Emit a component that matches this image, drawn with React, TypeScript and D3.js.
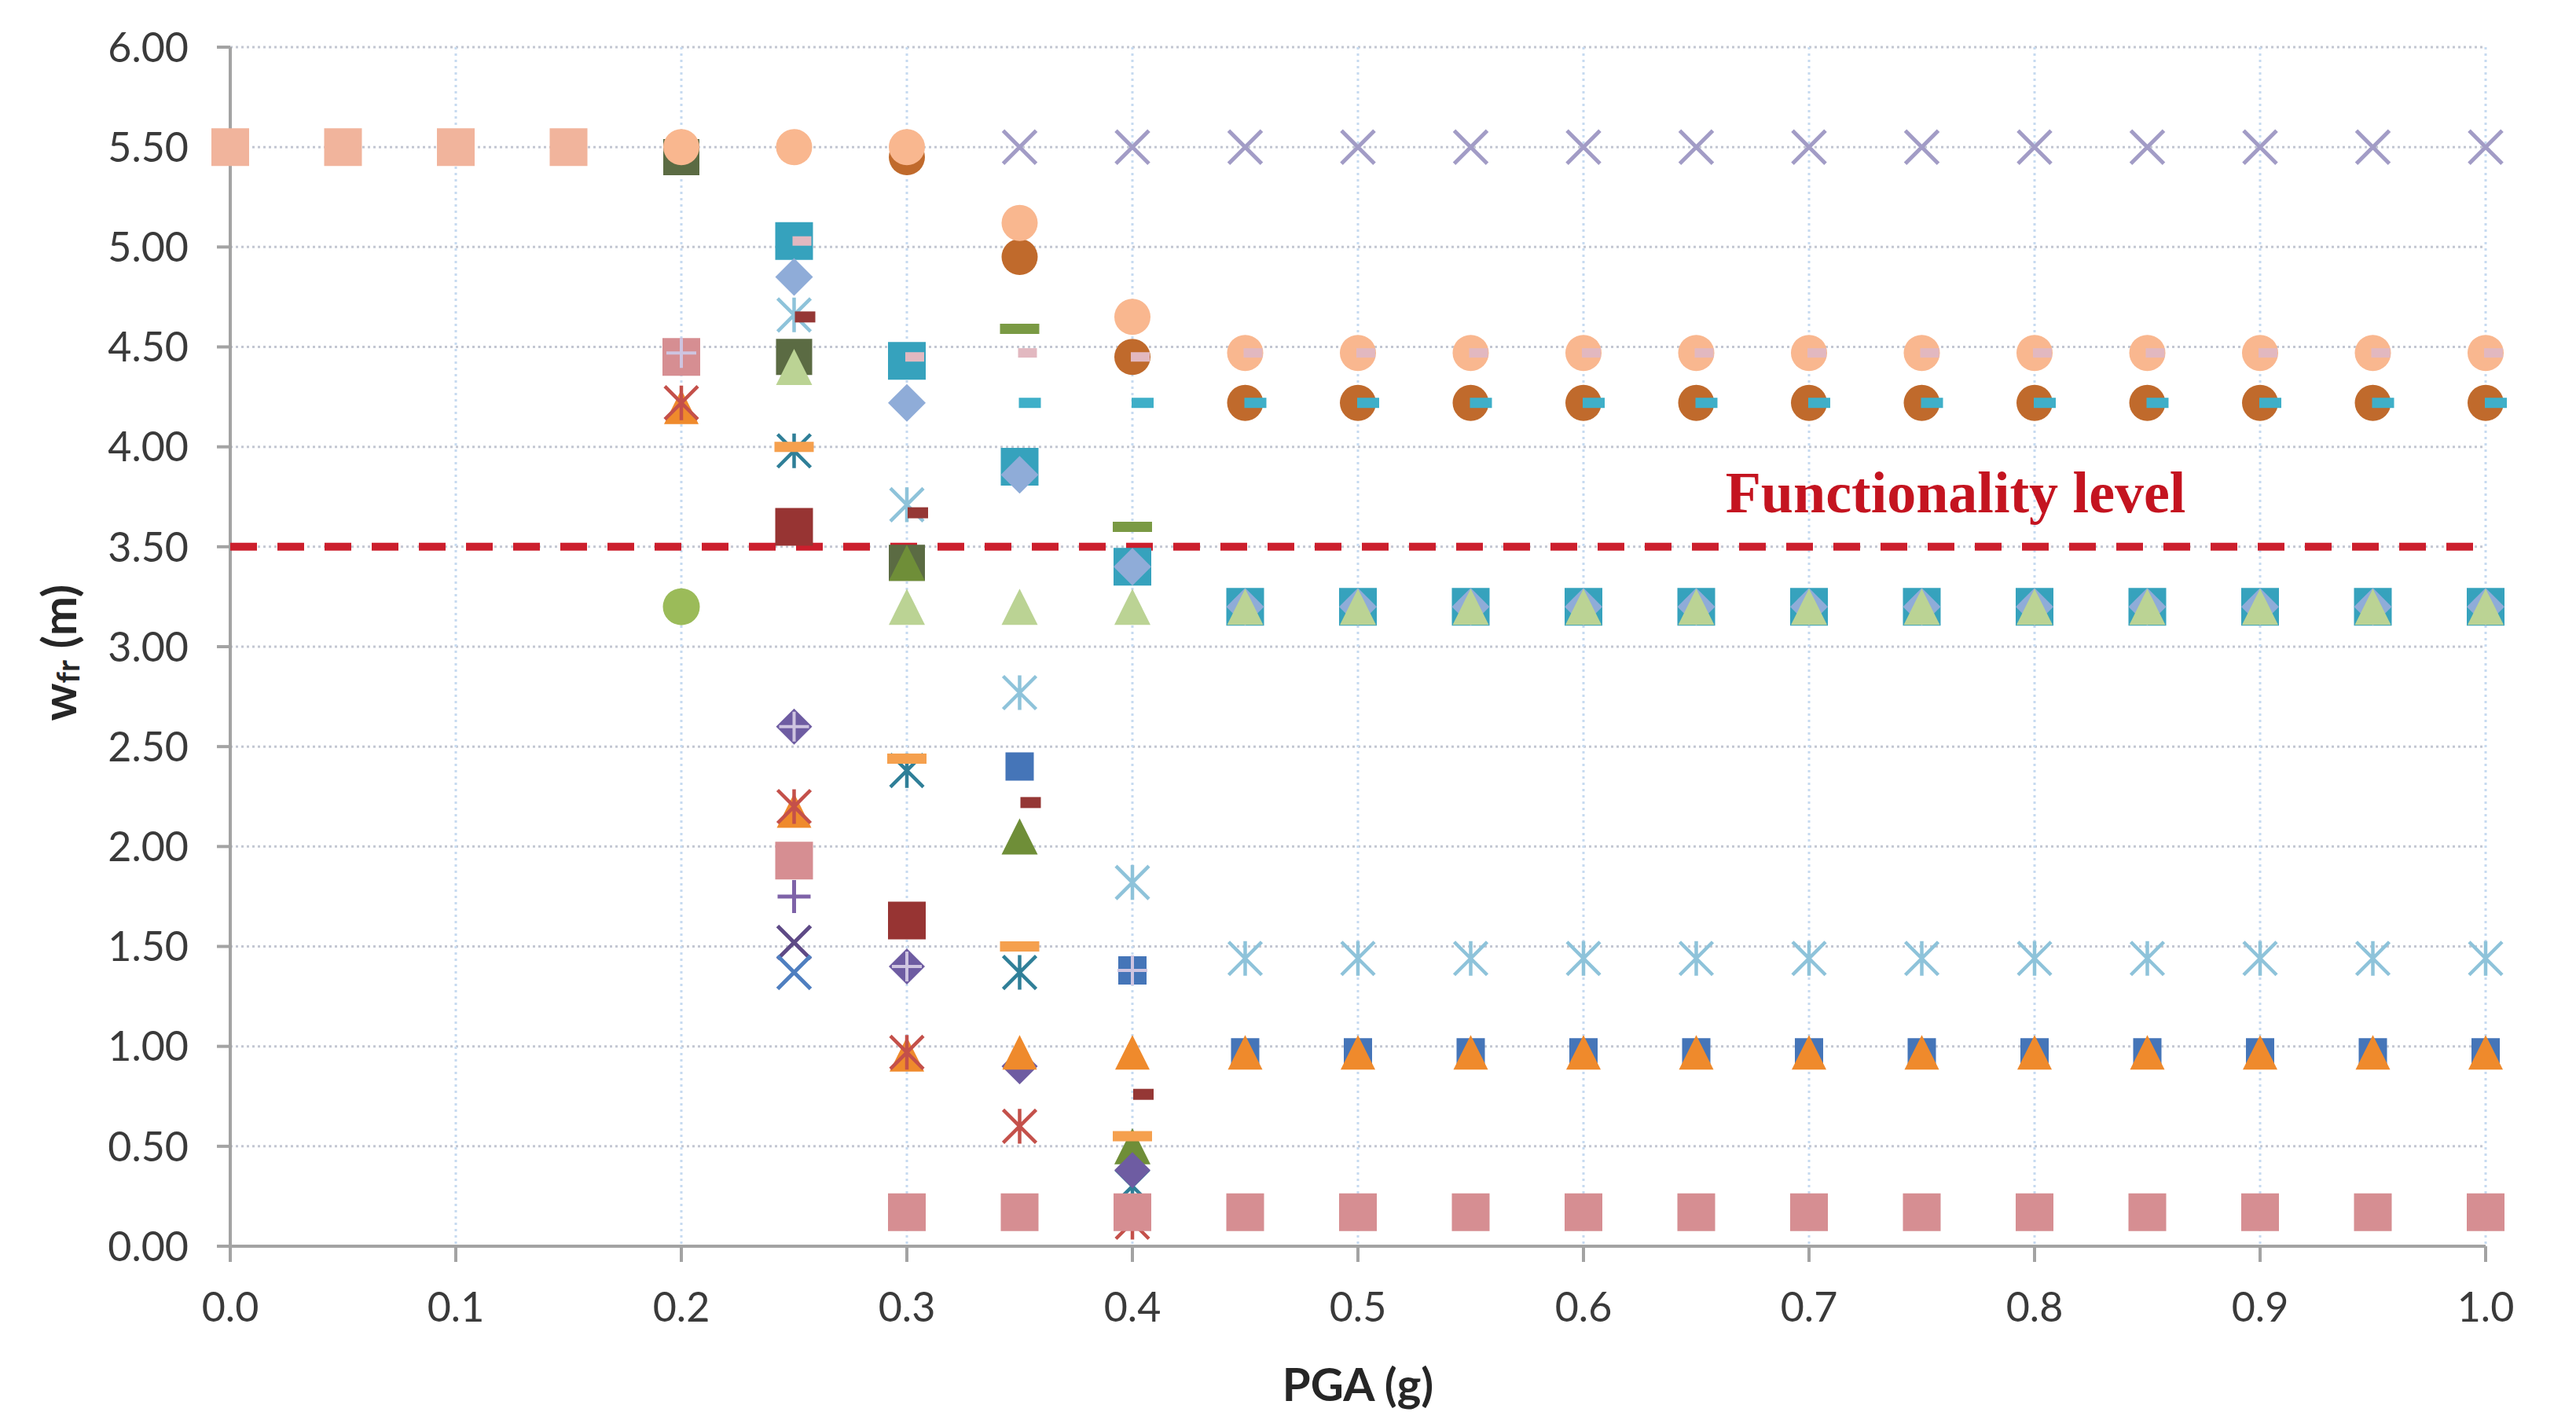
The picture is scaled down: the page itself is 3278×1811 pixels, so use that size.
import React from "react";
import * as d3 from "d3";

const _ = null;
const pga = [0, 0.05, 0.1, 0.15, 0.2, 0.25, 0.3, 0.35, 0.4, 0.45, 0.5, 0.55, 0.6, 0.65, 0.7, 0.75, 0.8, 0.85, 0.9, 0.95, 1.0];
const xTicks = [0, 0.1, 0.2, 0.3, 0.4, 0.5, 0.6, 0.7, 0.8, 0.9, 1.0];
const yTicks = [0, 0.5, 1, 1.5, 2, 2.5, 3, 3.5, 4, 4.5, 5, 5.5, 6];
const functionalityLevel = 3.5;

const peachSquare = [5.5, 5.5, 5.5, 5.5, _, _, _, _, _, _, _, _, _, _, _, _, _, _, _, _, _];
const oliveSquare = [_, _, _, _, 5.45, 4.45, 3.42, _, _, _, _, _, _, _, _, _, _, _, _, _, _];
const brownCircle = [_, _, _, _, _, _, 5.45, 4.95, 4.45, 4.22, 4.22, 4.22, 4.22, 4.22, 4.22, 4.22, 4.22, 4.22, 4.22, 4.22, 4.22];
const peachCircle = [_, _, _, _, 5.5, 5.5, 5.5, 5.12, 4.65, 4.47, 4.47, 4.47, 4.47, 4.47, 4.47, 4.47, 4.47, 4.47, 4.47, 4.47, 4.47];
const tealSquare = [_, _, _, _, _, 5.03, 4.43, 3.9, 3.4, 3.2, 3.2, 3.2, 3.2, 3.2, 3.2, 3.2, 3.2, 3.2, 3.2, 3.2, 3.2];
const pinkDash = [_, _, _, _, _, 5.03, 4.45, 4.47, 4.45, 4.47, 4.47, 4.47, 4.47, 4.47, 4.47, 4.47, 4.47, 4.47, 4.47, 4.47, 4.47];
const lightBlueDiamond = [_, _, _, _, _, 4.85, 4.22, 3.86, 3.4, 3.2, 3.2, 3.2, 3.2, 3.2, 3.2, 3.2, 3.2, 3.2, 3.2, 3.2, 3.2];
const darkGreenTriangle = [_, _, _, _, _, _, 3.42, 2.05, 0.5, _, _, _, _, _, _, _, _, _, _, _, _];
const lightGreenTriangle = [_, _, _, _, _, 4.4, 3.2, 3.2, 3.2, 3.2, 3.2, 3.2, 3.2, 3.2, 3.2, 3.2, 3.2, 3.2, 3.2, 3.2, 3.2];
const tealDash = [_, _, _, _, _, _, _, 4.22, 4.22, 4.22, 4.22, 4.22, 4.22, 4.22, 4.22, 4.22, 4.22, 4.22, 4.22, 4.22, 4.22];
const greenDash = [_, _, _, _, _, _, _, 4.59, 3.6, _, _, _, _, _, _, _, _, _, _, _, _];
const lavenderX = [_, _, _, _, _, _, _, 5.5, 5.5, 5.5, 5.5, 5.5, 5.5, 5.5, 5.5, 5.5, 5.5, 5.5, 5.5, 5.5, 5.5];
const lightBlueAsterisk = [_, _, _, _, _, 4.66, 3.71, 2.77, 1.82, 1.44, 1.44, 1.44, 1.44, 1.44, 1.44, 1.44, 1.44, 1.44, 1.44, 1.44, 1.44];
const darkRedDash = [_, _, _, _, _, 4.65, 3.67, 2.22, 0.76, _, _, _, _, _, _, _, _, _, _, _, _];
const darkRedSquare = [_, _, _, _, _, 3.6, 1.63, _, _, _, _, _, _, _, _, _, _, _, _, _, _];
const tealAsterisk = [_, _, _, _, _, 3.98, 2.38, 1.37, 0.3, _, _, _, _, _, _, _, _, _, _, _, _];
const orangeDash = [_, _, _, _, _, 4.0, 2.44, 1.5, 0.55, _, _, _, _, _, _, _, _, _, _, _, _];
const purpleDiamond = [_, _, _, _, _, 2.6, 1.4, 0.9, 0.38, _, _, _, _, _, _, _, _, _, _, _, _];
const blueSquare = [_, _, _, _, _, _, _, 2.4, 1.38, 0.97, 0.97, 0.97, 0.97, 0.97, 0.97, 0.97, 0.97, 0.97, 0.97, 0.97, 0.97];
const orangeTriangle = [_, _, _, _, 4.2, 2.18, 0.96, 0.97, 0.97, 0.97, 0.97, 0.97, 0.97, 0.97, 0.97, 0.97, 0.97, 0.97, 0.97, 0.97, 0.97];
const redAsterisk = [_, _, _, _, 4.22, 2.2, 0.97, 0.6, 0.12, _, _, _, _, _, _, _, _, _, _, _, _];
const pinkSquare = [_, _, _, _, 4.45, 1.93, 0.17, 0.17, 0.17, 0.17, 0.17, 0.17, 0.17, 0.17, 0.17, 0.17, 0.17, 0.17, 0.17, 0.17, 0.17];
const lavenderPlus = [_, _, _, _, 4.47, 2.6, 1.4, _, 1.38, _, _, _, _, _, _, _, _, _, _, _, _];
const purplePlus = [_, _, _, _, _, 1.75, _, _, _, _, _, _, _, _, _, _, _, _, _, _, _];
const darkPurpleX = [_, _, _, _, _, 1.52, _, _, _, _, _, _, _, _, _, _, _, _, _, _, _];
const blueX = [_, _, _, _, _, 1.37, _, _, _, _, _, _, _, _, _, _, _, _, _, _, _];
const greenCircle = [_, _, _, _, 3.2, _, _, _, _, _, _, _, _, _, _, _, _, _, _, _, _];

type Shape = "square" | "circle" | "triangle" | "diamond" | "x" | "asterisk" | "plus" | "dash";
interface SeriesStyle { values: (number | null)[]; shape: Shape; color: string; size: number; h?: number; dx?: number; sw?: number; }

// draw order: later entries are drawn on top
const series: SeriesStyle[] = [
  { values: peachSquare, shape: "square", color: "#F1B49C", size: 48 },
  { values: oliveSquare, shape: "square", color: "#5B6B43", size: 46 },
  { values: brownCircle, shape: "circle", color: "#C06A2C", size: 46 },
  { values: peachCircle, shape: "circle", color: "#F9B78F", size: 46 },
  { values: tealSquare, shape: "square", color: "#36A2BD", size: 48 },
  { values: pinkDash, shape: "dash", color: "#E2B8C0", size: 24, h: 12, dx: 10 },
  { values: lightBlueDiamond, shape: "diamond", color: "#8FACD8", size: 48 },
  { values: darkGreenTriangle, shape: "triangle", color: "#6F8E38", size: 46 },
  { values: lightGreenTriangle, shape: "triangle", color: "#BBD394", size: 46 },
  { values: tealDash, shape: "dash", color: "#3FAFC8", size: 28, h: 13, dx: 13 },
  { values: greenDash, shape: "dash", color: "#7A9A44", size: 50, h: 13 },
  { values: lavenderX, shape: "x", color: "#A29CC6", size: 42, sw: 5 },
  { values: lightBlueAsterisk, shape: "asterisk", color: "#8EC3DA", size: 42, sw: 4.5 },
  { values: darkRedDash, shape: "dash", color: "#953735", size: 26, h: 14, dx: 14 },
  { values: darkRedSquare, shape: "square", color: "#973433", size: 48 },
  { values: tealAsterisk, shape: "asterisk", color: "#2F7F98", size: 42, sw: 4.5 },
  { values: orangeDash, shape: "dash", color: "#F5A04E", size: 50, h: 13 },
  { values: purpleDiamond, shape: "diamond", color: "#6E5CA2", size: 46 },
  { values: blueSquare, shape: "square", color: "#4575B8", size: 36 },
  { values: orangeTriangle, shape: "triangle", color: "#EF8A2C", size: 44 },
  { values: redAsterisk, shape: "asterisk", color: "#C4504A", size: 42, sw: 4.5 },
  { values: pinkSquare, shape: "square", color: "#D68E92", size: 48 },
  { values: lavenderPlus, shape: "plus", color: "#CEC4E0", size: 38, sw: 4 },
  { values: purplePlus, shape: "plus", color: "#7E62A8", size: 42, sw: 5 },
  { values: darkPurpleX, shape: "x", color: "#5E4A86", size: 42, sw: 5 },
  { values: blueX, shape: "x", color: "#4F7FC0", size: 42, sw: 5 },
  { values: greenCircle, shape: "circle", color: "#9BBB59", size: 47 },
];

const W = 3278;
const H = 1811;
const left = 293;
const right = 3163;
const top = 60;
const bottom = 1586;
const FONT = "Lato, 'Open Sans', 'DejaVu Sans', sans-serif";

function markerPath(shape: Shape, s: number, h: number): string {
  const r = s / 2;
  const p = d3.path();
  switch (shape) {
    case "square":
      p.rect(-r, -r, s, s);
      break;
    case "circle":
      p.moveTo(r, 0);
      p.arc(0, 0, r, 0, Math.PI * 2);
      p.closePath();
      break;
    case "triangle":
      p.moveTo(0, -r);
      p.lineTo(r, r);
      p.lineTo(-r, r);
      p.closePath();
      break;
    case "diamond":
      p.moveTo(0, -r);
      p.lineTo(r, 0);
      p.lineTo(0, r);
      p.lineTo(-r, 0);
      p.closePath();
      break;
    case "dash":
      p.rect(-r, -h / 2, s, h);
      break;
    case "x":
      p.moveTo(-r, -r); p.lineTo(r, r);
      p.moveTo(r, -r); p.lineTo(-r, r);
      break;
    case "asterisk":
      p.moveTo(-r, -r); p.lineTo(r, r);
      p.moveTo(r, -r); p.lineTo(-r, r);
      p.moveTo(0, -r * 1.05); p.lineTo(0, r * 1.05);
      break;
    case "plus":
      p.moveTo(-r, 0); p.lineTo(r, 0);
      p.moveTo(0, -r); p.lineTo(0, r);
      break;
  }
  return p.toString();
}

export default function App() {
  const x = d3.scaleLinear().domain([0, 1]).range([left, right]);
  const y = d3.scaleLinear().domain([0, 6]).range([bottom, top]);
  const fx = d3.format(".1f");
  const fy = d3.format(".2f");

  return (
    <svg width={W} height={H} viewBox={`0 0 ${W} ${H}`} style={{ position: "absolute", left: 0, top: 0, background: "#fff" }}>
      <rect x={0} y={0} width={W} height={H} fill="#fff" />
      {/* horizontal gridlines */}
      {yTicks.filter((t) => t > 0).map((t) => (
        <line key={"hg" + t} x1={left} x2={right} y1={y(t)} y2={y(t)} stroke="#C3C7D2" strokeWidth={3} strokeDasharray="3 4" />
      ))}
      {/* vertical gridlines */}
      {xTicks.filter((t) => t > 0).map((t) => (
        <line key={"vg" + t} x1={x(t)} x2={x(t)} y1={top} y2={bottom} stroke="#C6DAF0" strokeWidth={3} strokeDasharray="3 5" />
      ))}
      {/* axes */}
      <line x1={left} x2={left} y1={top} y2={bottom} stroke="#A3A3A3" strokeWidth={4} />
      <line x1={left} x2={right} y1={bottom} y2={bottom} stroke="#A3A3A3" strokeWidth={4} />
      {yTicks.map((t) => (
        <g key={"yt" + t}>
          <line x1={left - 17} x2={left} y1={y(t)} y2={y(t)} stroke="#A3A3A3" strokeWidth={4} />
          <text x={240} y={y(t)} dy="0.36em" textAnchor="end" fontFamily={FONT} fontSize={52} fill="#3A3A3A">{fy(t)}</text>
        </g>
      ))}
      {xTicks.map((t) => (
        <g key={"xt" + t}>
          <line x1={x(t)} x2={x(t)} y1={bottom} y2={bottom + 20} stroke="#A3A3A3" strokeWidth={4} />
          <text x={x(t)} y={1682} textAnchor="middle" fontFamily={FONT} fontSize={52} fill="#3A3A3A">{fx(t)}</text>
        </g>
      ))}
      {/* functionality level */}
      <line x1={x(0)} x2={x(1)} y1={y(functionalityLevel)} y2={y(functionalityLevel)} stroke="#CC1F2D" strokeWidth={10} strokeDasharray="34 26" />
      {/* markers */}
      {series.map((s, si) => (
        <g key={"s" + si}>
          {s.values.map((v, i) => {
            if (v === null) return null;
            const d = markerPath(s.shape, s.size, s.h ?? 13);
            const stroked = s.shape === "x" || s.shape === "asterisk" || s.shape === "plus";
            return (
              <path
                key={i}
                d={d}
                transform={`translate(${x(pga[i]) + (s.dx ?? 0)},${y(v)})`}
                fill={stroked ? "none" : s.color}
                stroke={stroked ? s.color : "none"}
                strokeWidth={stroked ? s.sw ?? 4.5 : 0}
              />
            );
          })}
        </g>
      ))}
      <text x={x(0.765)} y={y(3.673)} textAnchor="middle" fontFamily="'Liberation Serif', 'Times New Roman', serif" fontWeight="bold" fontSize={74} fill="#C41420">Functionality level</text>
      {/* axis titles */}
      <text x={x(0.5)} y={1783} textAnchor="middle" fontFamily={FONT} fontWeight="bold" fontSize={58} fill="#262626">PGA (g)</text>
      <text transform={`translate(97,${y(2.97)}) rotate(-90)`} textAnchor="middle" fontFamily={FONT} fontWeight="bold" fontSize={60} fill="#262626">
        w<tspan fontSize={40} dy={4}>fr</tspan><tspan dy={-4}> (m)</tspan>
      </text>
    </svg>
  );
}
